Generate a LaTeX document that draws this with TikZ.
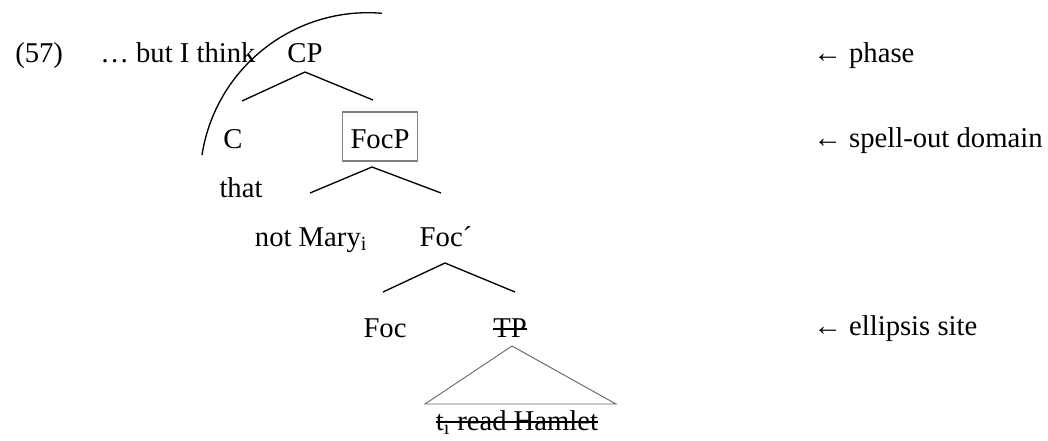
\documentclass[tikz,border=0pt]{standalone}
\usepackage{fontspec}
\setmainfont{Liberation Serif}
\usetikzlibrary{positioning}

\begin{document}
\begin{tikzpicture}[x=0.75pt,y=-0.75pt,
  every node/.style={inner sep=0pt,anchor=base,font=\fontsize{21.5}{26}\selectfont},
  branch/.style={line width=1pt},
  strike/.style={line width=1.1pt},
  boxed/.style={draw=gray,line width=0.8pt,inner xsep=6pt,text height=27pt,text depth=9.75pt},
  remark/.style={anchor=base west}]

\useasboundingbox (0,0) rectangle (1048,440);

% Example number and lead-in
\node[remark] (num) at (15,62) {(57)};
\node[remark] (intro) at (100,62) {… but I think};

% Tree nodes
\node (CP) at (305,62) {CP};
\node (C) at (233,148) {C};
\node[boxed] (FocP) at (380,148) {FocP};
\node (that) at (241,197) {that};
\node (notMary) at (311,246) {not Mary\textsubscript{i}};
\node (Focbar) at (446,246) {Foc´};
\node (Foc) at (385,337) {Foc};
\node (TP) at (510,337) {TP};
\node (elided) at (517,430) {t\textsubscript{i} read Hamlet};

% Branches
\draw[branch] ([shift={(9,-47)}]C.base) -- ([shift={(0,10)}]CP.base) -- ([shift={(-7,-48)}]FocP.base);
\draw[branch] ([shift={(-1,-53)}]notMary.base) -- ([shift={(-8,19)}]FocP.base) -- ([shift={(-5,-53)}]Focbar.base);
\draw[branch] ([shift={(-2,-45)}]Foc.base) -- ([shift={(-1,17)}]Focbar.base) -- ([shift={(5,-45)}]TP.base);

% Strike-through on the deleted material
\draw[strike] ([yshift=6pt]TP.base west) -- ([yshift=6pt]TP.base east);
\draw[strike] ([yshift=6pt]elided.base west) -- ([yshift=6pt]elided.base east);

% Triangle over the elided TP
\draw[draw=gray!80!black,line width=0.7pt] ([shift={(-92,-26)}]elided.base) -- ([shift={(2,9)}]TP.base) -- ([shift={(99,-26)}]elided.base) -- cycle;

% Phase boundary
\coordinate (arcstart) at (202,155);
\draw[branch] (arcstart) arc[start angle=171.2,end angle=85.3,radius=126pt];

% Annotations
\node[remark] (phase) at (813,62) {← phase};
\node[remark] (spellout) at (813,147) {← spell-out domain};
\node[remark] (ellipsis) at (813,335) {← ellipsis site};

\end{tikzpicture}
\end{document}
